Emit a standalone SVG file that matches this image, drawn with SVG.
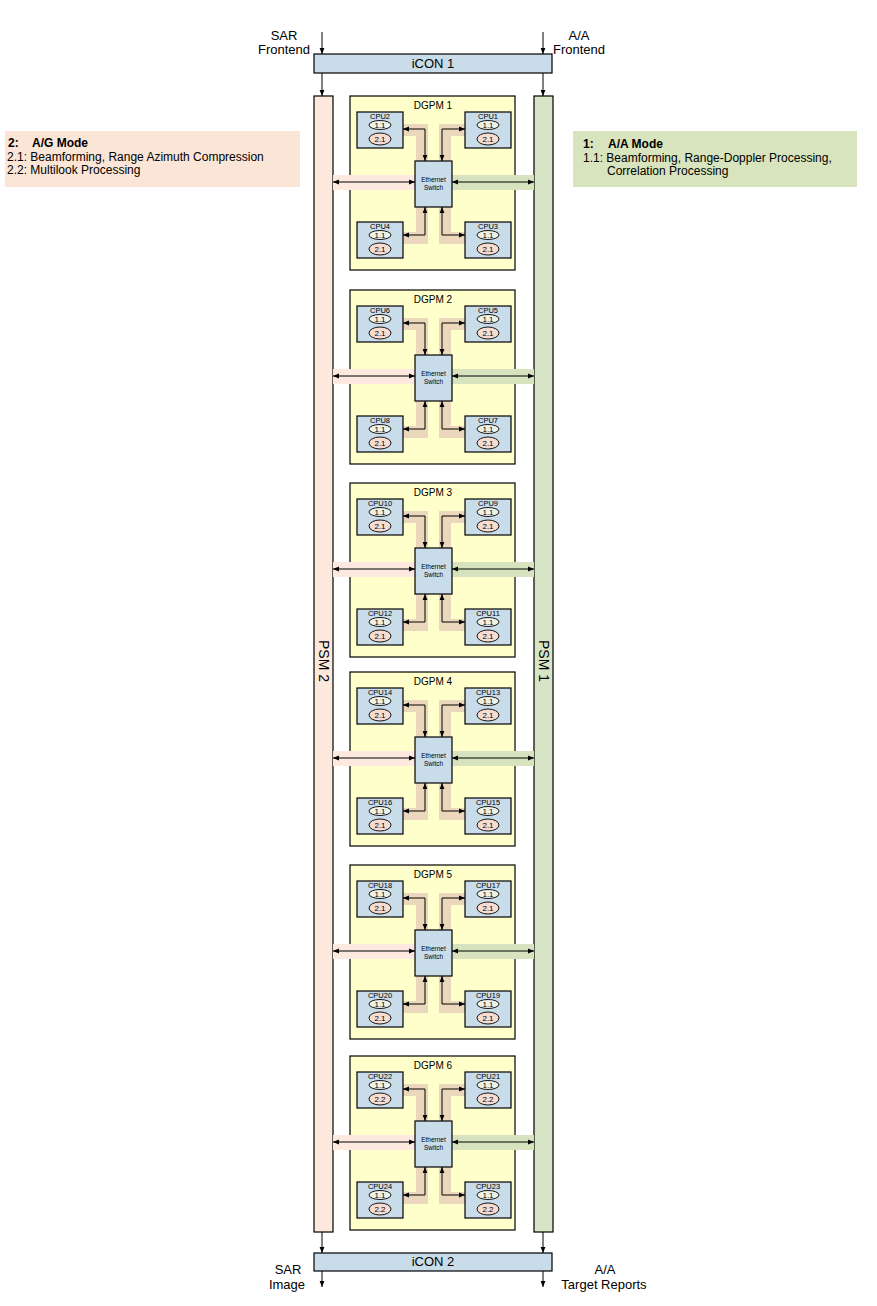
<svg xmlns="http://www.w3.org/2000/svg" width="877" height="1306" viewBox="0 0 877 1306">
<defs>
<style>
text{font-family:"Liberation Sans",Arial,sans-serif;fill:#000}
.box{fill:#c9dce9;stroke:#000;stroke-width:1.2}
.dgpm{fill:#ffffcc;stroke:#000;stroke-width:1.2}
.psm2{fill:#fce8dc;stroke:#000;stroke-width:1.2}
.psm1{fill:#d8e4c6;stroke:#000;stroke-width:1.2}
.e1{fill:#f0f2e8;stroke:#000;stroke-width:0.9}
.e2{fill:#f8dcd0;stroke:#000;stroke-width:0.9}
.tan{fill:none;stroke:#ebd8bc;stroke-width:12;stroke-linejoin:miter}
.pink{fill:#fde9df}
.green{fill:#d7e3bf}
.ar{fill:none;stroke:#000;stroke-width:1}
.lbl{font-size:13px}
.cpu{font-size:7.5px;text-anchor:middle}
.num{font-size:8px;text-anchor:middle}
.sw{font-size:6.5px;text-anchor:middle}
.ttl{font-size:10px;text-anchor:middle}
.leg{font-size:12px}
</style>
<marker id="ah" viewBox="0 0 10 10" refX="10" refY="5" markerWidth="6" markerHeight="6" orient="auto-start-reverse" markerUnits="userSpaceOnUse">
<path d="M0,1 L10,5 L0,9 z" fill="#000"/>
</marker>
<g id="dgpm-conn">
<polyline class="tan" points="403,130 422,130 422,161"/>
<polyline class="tan" points="465,130 445,130 445,161"/>
<polyline class="tan" points="403,238 422,238 422,207"/>
<polyline class="tan" points="465,238 445,238 445,207"/>
<rect class="pink" x="333" y="175" width="82" height="15"/>
<rect class="green" x="452" y="175" width="82" height="15"/>
</g>
<g id="dgpm-arrows">
<polyline class="ar" points="403,129 425,129 425,161" marker-start="url(#ah)" marker-end="url(#ah)"/>
<polyline class="ar" points="442,161 442,129 465,129" marker-start="url(#ah)" marker-end="url(#ah)"/>
<polyline class="ar" points="403,235 425,235 425,207" marker-start="url(#ah)" marker-end="url(#ah)"/>
<polyline class="ar" points="442,207 442,235 465,235" marker-start="url(#ah)" marker-end="url(#ah)"/>
<line class="ar" x1="333" y1="182" x2="415" y2="182" marker-start="url(#ah)" marker-end="url(#ah)"/>
<line class="ar" x1="452" y1="182" x2="534" y2="182" marker-start="url(#ah)" marker-end="url(#ah)"/>
</g>
</defs>
<rect width="877" height="1306" fill="#fff"/>

<g id="legend-ag">
<rect x="5" y="131" width="295" height="56" fill="#fbe5d6"/>
<text class="leg" x="8" y="147" font-weight="bold">2:</text>
<text class="leg" x="32" y="147" font-weight="bold">A/G Mode</text>
<text class="leg" x="7" y="161">2.1: Beamforming, Range Azimuth Compression</text>
<text class="leg" x="7" y="174">2.2: Multilook Processing</text>
</g>
<g id="legend-aa">
<rect x="573" y="131" width="284" height="56" fill="#d7e4bd"/>
<text class="leg" x="583" y="148" font-weight="bold">1:</text>
<text class="leg" x="608" y="148" font-weight="bold">A/A Mode</text>
<text class="leg" x="583" y="162">1.1: Beamforming, Range-Doppler Processing,</text>
<text class="leg" x="607" y="175">Correlation Processing</text>
</g>

<g id="icon1">
<rect class="box" x="314" y="54" width="238" height="19"/>
<text x="433" y="68" font-size="13" text-anchor="middle">iCON 1</text>
</g>
<g id="icon2">
<rect class="box" x="314" y="1253" width="238" height="18"/>
<text x="433" y="1266" font-size="13" text-anchor="middle">iCON 2</text>
</g>
<g id="psm2">
<rect class="psm2" x="314" y="96" width="19" height="1136"/>
<text x="323.5" y="661" font-size="14" text-anchor="middle" transform="rotate(90 323.5 661)" dy="5">PSM 2</text>
</g>
<g id="psm1">
<rect class="psm1" x="534" y="96" width="19" height="1136"/>
<text x="543.5" y="661" font-size="14" text-anchor="middle" transform="rotate(90 543.5 661)" dy="5">PSM 1</text>
</g>

<g id="io-labels">
<text class="lbl" x="284" y="40" text-anchor="middle">SAR</text>
<text class="lbl" x="284" y="54" text-anchor="middle">Frontend</text>
<text class="lbl" x="579" y="40" text-anchor="middle">A/A</text>
<text class="lbl" x="579" y="54" text-anchor="middle">Frontend</text>
<text class="lbl" x="288" y="1274" text-anchor="middle">SAR</text>
<text class="lbl" x="287" y="1289" text-anchor="middle">Image</text>
<text class="lbl" x="605" y="1274" text-anchor="middle">A/A</text>
<text class="lbl" x="604" y="1289" text-anchor="middle">Target Reports</text>
</g>

<!-- DGPM 1 -->
<g id="dgpm1">
<rect class="dgpm" x="350" y="96" width="165" height="174"/>
<text class="ttl" x="433" y="109">DGPM 1</text>
</g>
<g id="dgpm2" transform="translate(0,194)">
<rect class="dgpm" x="350" y="96" width="165" height="174"/>
<text class="ttl" x="433" y="109">DGPM 2</text>
</g>
<g id="dgpm3" transform="translate(0,387)">
<rect class="dgpm" x="350" y="96" width="165" height="174"/>
<text class="ttl" x="433" y="109">DGPM 3</text>
</g>
<g id="dgpm4" transform="translate(0,576)">
<rect class="dgpm" x="350" y="96" width="165" height="174"/>
<text class="ttl" x="433" y="109">DGPM 4</text>
</g>
<g id="dgpm5" transform="translate(0,769)">
<rect class="dgpm" x="350" y="96" width="165" height="174"/>
<text class="ttl" x="433" y="109">DGPM 5</text>
</g>
<g id="dgpm6" transform="translate(0,960)">
<rect class="dgpm" x="350" y="96" width="165" height="174"/>
<text class="ttl" x="433" y="109">DGPM 6</text>
</g>

<g id="bands">
<use href="#dgpm-conn"/>
<use href="#dgpm-conn" transform="translate(0,194)"/>
<use href="#dgpm-conn" transform="translate(0,387)"/>
<use href="#dgpm-conn" transform="translate(0,576)"/>
<use href="#dgpm-conn" transform="translate(0,769)"/>
<use href="#dgpm-conn" transform="translate(0,960)"/>
</g>

<!-- CPU and switch nodes -->
<g id="m1" transform="translate(0,0)">
<g id="cpu2"><rect class="box" x="357" y="112" width="46" height="36"/><text class="cpu" x="380" y="119">CPU2</text><ellipse class="e1" cx="380" cy="125" rx="11" ry="4.5"/><text class="num" x="380" y="128">1.1</text><ellipse class="e2" cx="380" cy="139" rx="11" ry="6"/><text class="num" x="380" y="142">2.1</text></g>
<g id="cpu1"><rect class="box" x="465" y="112" width="46" height="36"/><text class="cpu" x="488" y="119">CPU1</text><ellipse class="e1" cx="488" cy="125" rx="11" ry="4.5"/><text class="num" x="488" y="128">1.1</text><ellipse class="e2" cx="488" cy="139" rx="11" ry="6"/><text class="num" x="488" y="142">2.1</text></g>
<g id="cpu4"><rect class="box" x="357" y="222" width="46" height="36"/><text class="cpu" x="380" y="229">CPU4</text><ellipse class="e1" cx="380" cy="235" rx="11" ry="4.5"/><text class="num" x="380" y="238">1.1</text><ellipse class="e2" cx="380" cy="249" rx="11" ry="6"/><text class="num" x="380" y="252">2.1</text></g>
<g id="cpu3"><rect class="box" x="465" y="222" width="46" height="36"/><text class="cpu" x="488" y="229">CPU3</text><ellipse class="e1" cx="488" cy="235" rx="11" ry="4.5"/><text class="num" x="488" y="238">1.1</text><ellipse class="e2" cx="488" cy="249" rx="11" ry="6"/><text class="num" x="488" y="252">2.1</text></g>
<g id="sw1"><rect class="box" x="415" y="161" width="37" height="46"/><text class="sw" x="433.5" y="182">Ethernet</text><text class="sw" x="433.5" y="190">Switch</text></g>
</g>
<g id="m2" transform="translate(0,194)">
<g id="cpu6"><rect class="box" x="357" y="112" width="46" height="36"/><text class="cpu" x="380" y="119">CPU6</text><ellipse class="e1" cx="380" cy="125" rx="11" ry="4.5"/><text class="num" x="380" y="128">1.1</text><ellipse class="e2" cx="380" cy="139" rx="11" ry="6"/><text class="num" x="380" y="142">2.1</text></g>
<g id="cpu5"><rect class="box" x="465" y="112" width="46" height="36"/><text class="cpu" x="488" y="119">CPU5</text><ellipse class="e1" cx="488" cy="125" rx="11" ry="4.5"/><text class="num" x="488" y="128">1.1</text><ellipse class="e2" cx="488" cy="139" rx="11" ry="6"/><text class="num" x="488" y="142">2.1</text></g>
<g id="cpu8"><rect class="box" x="357" y="222" width="46" height="36"/><text class="cpu" x="380" y="229">CPU8</text><ellipse class="e1" cx="380" cy="235" rx="11" ry="4.5"/><text class="num" x="380" y="238">1.1</text><ellipse class="e2" cx="380" cy="249" rx="11" ry="6"/><text class="num" x="380" y="252">2.1</text></g>
<g id="cpu7"><rect class="box" x="465" y="222" width="46" height="36"/><text class="cpu" x="488" y="229">CPU7</text><ellipse class="e1" cx="488" cy="235" rx="11" ry="4.5"/><text class="num" x="488" y="238">1.1</text><ellipse class="e2" cx="488" cy="249" rx="11" ry="6"/><text class="num" x="488" y="252">2.1</text></g>
<g id="sw2"><rect class="box" x="415" y="161" width="37" height="46"/><text class="sw" x="433.5" y="182">Ethernet</text><text class="sw" x="433.5" y="190">Switch</text></g>
</g>
<g id="m3" transform="translate(0,387)">
<g id="cpu10"><rect class="box" x="357" y="112" width="46" height="36"/><text class="cpu" x="380" y="119">CPU10</text><ellipse class="e1" cx="380" cy="125" rx="11" ry="4.5"/><text class="num" x="380" y="128">1.1</text><ellipse class="e2" cx="380" cy="139" rx="11" ry="6"/><text class="num" x="380" y="142">2.1</text></g>
<g id="cpu9"><rect class="box" x="465" y="112" width="46" height="36"/><text class="cpu" x="488" y="119">CPU9</text><ellipse class="e1" cx="488" cy="125" rx="11" ry="4.5"/><text class="num" x="488" y="128">1.1</text><ellipse class="e2" cx="488" cy="139" rx="11" ry="6"/><text class="num" x="488" y="142">2.1</text></g>
<g id="cpu12"><rect class="box" x="357" y="222" width="46" height="36"/><text class="cpu" x="380" y="229">CPU12</text><ellipse class="e1" cx="380" cy="235" rx="11" ry="4.5"/><text class="num" x="380" y="238">1.1</text><ellipse class="e2" cx="380" cy="249" rx="11" ry="6"/><text class="num" x="380" y="252">2.1</text></g>
<g id="cpu11"><rect class="box" x="465" y="222" width="46" height="36"/><text class="cpu" x="488" y="229">CPU11</text><ellipse class="e1" cx="488" cy="235" rx="11" ry="4.5"/><text class="num" x="488" y="238">1.1</text><ellipse class="e2" cx="488" cy="249" rx="11" ry="6"/><text class="num" x="488" y="252">2.1</text></g>
<g id="sw3"><rect class="box" x="415" y="161" width="37" height="46"/><text class="sw" x="433.5" y="182">Ethernet</text><text class="sw" x="433.5" y="190">Switch</text></g>
</g>
<g id="m4" transform="translate(0,576)">
<g id="cpu14"><rect class="box" x="357" y="112" width="46" height="36"/><text class="cpu" x="380" y="119">CPU14</text><ellipse class="e1" cx="380" cy="125" rx="11" ry="4.5"/><text class="num" x="380" y="128">1.1</text><ellipse class="e2" cx="380" cy="139" rx="11" ry="6"/><text class="num" x="380" y="142">2.1</text></g>
<g id="cpu13"><rect class="box" x="465" y="112" width="46" height="36"/><text class="cpu" x="488" y="119">CPU13</text><ellipse class="e1" cx="488" cy="125" rx="11" ry="4.5"/><text class="num" x="488" y="128">1.1</text><ellipse class="e2" cx="488" cy="139" rx="11" ry="6"/><text class="num" x="488" y="142">2.1</text></g>
<g id="cpu16"><rect class="box" x="357" y="222" width="46" height="36"/><text class="cpu" x="380" y="229">CPU16</text><ellipse class="e1" cx="380" cy="235" rx="11" ry="4.5"/><text class="num" x="380" y="238">1.1</text><ellipse class="e2" cx="380" cy="249" rx="11" ry="6"/><text class="num" x="380" y="252">2.1</text></g>
<g id="cpu15"><rect class="box" x="465" y="222" width="46" height="36"/><text class="cpu" x="488" y="229">CPU15</text><ellipse class="e1" cx="488" cy="235" rx="11" ry="4.5"/><text class="num" x="488" y="238">1.1</text><ellipse class="e2" cx="488" cy="249" rx="11" ry="6"/><text class="num" x="488" y="252">2.1</text></g>
<g id="sw4"><rect class="box" x="415" y="161" width="37" height="46"/><text class="sw" x="433.5" y="182">Ethernet</text><text class="sw" x="433.5" y="190">Switch</text></g>
</g>
<g id="m5" transform="translate(0,769)">
<g id="cpu18"><rect class="box" x="357" y="112" width="46" height="36"/><text class="cpu" x="380" y="119">CPU18</text><ellipse class="e1" cx="380" cy="125" rx="11" ry="4.5"/><text class="num" x="380" y="128">1.1</text><ellipse class="e2" cx="380" cy="139" rx="11" ry="6"/><text class="num" x="380" y="142">2.1</text></g>
<g id="cpu17"><rect class="box" x="465" y="112" width="46" height="36"/><text class="cpu" x="488" y="119">CPU17</text><ellipse class="e1" cx="488" cy="125" rx="11" ry="4.5"/><text class="num" x="488" y="128">1.1</text><ellipse class="e2" cx="488" cy="139" rx="11" ry="6"/><text class="num" x="488" y="142">2.1</text></g>
<g id="cpu20"><rect class="box" x="357" y="222" width="46" height="36"/><text class="cpu" x="380" y="229">CPU20</text><ellipse class="e1" cx="380" cy="235" rx="11" ry="4.5"/><text class="num" x="380" y="238">1.1</text><ellipse class="e2" cx="380" cy="249" rx="11" ry="6"/><text class="num" x="380" y="252">2.1</text></g>
<g id="cpu19"><rect class="box" x="465" y="222" width="46" height="36"/><text class="cpu" x="488" y="229">CPU19</text><ellipse class="e1" cx="488" cy="235" rx="11" ry="4.5"/><text class="num" x="488" y="238">1.1</text><ellipse class="e2" cx="488" cy="249" rx="11" ry="6"/><text class="num" x="488" y="252">2.1</text></g>
<g id="sw5"><rect class="box" x="415" y="161" width="37" height="46"/><text class="sw" x="433.5" y="182">Ethernet</text><text class="sw" x="433.5" y="190">Switch</text></g>
</g>
<g id="m6" transform="translate(0,960)">
<g id="cpu22"><rect class="box" x="357" y="112" width="46" height="36"/><text class="cpu" x="380" y="119">CPU22</text><ellipse class="e1" cx="380" cy="125" rx="11" ry="4.5"/><text class="num" x="380" y="128">1.1</text><ellipse class="e2" cx="380" cy="139" rx="11" ry="6"/><text class="num" x="380" y="142">2.2</text></g>
<g id="cpu21"><rect class="box" x="465" y="112" width="46" height="36"/><text class="cpu" x="488" y="119">CPU21</text><ellipse class="e1" cx="488" cy="125" rx="11" ry="4.5"/><text class="num" x="488" y="128">1.1</text><ellipse class="e2" cx="488" cy="139" rx="11" ry="6"/><text class="num" x="488" y="142">2.2</text></g>
<g id="cpu24"><rect class="box" x="357" y="222" width="46" height="36"/><text class="cpu" x="380" y="229">CPU24</text><ellipse class="e1" cx="380" cy="235" rx="11" ry="4.5"/><text class="num" x="380" y="238">1.1</text><ellipse class="e2" cx="380" cy="249" rx="11" ry="6"/><text class="num" x="380" y="252">2.2</text></g>
<g id="cpu23"><rect class="box" x="465" y="222" width="46" height="36"/><text class="cpu" x="488" y="229">CPU23</text><ellipse class="e1" cx="488" cy="235" rx="11" ry="4.5"/><text class="num" x="488" y="238">1.1</text><ellipse class="e2" cx="488" cy="249" rx="11" ry="6"/><text class="num" x="488" y="252">2.2</text></g>
<g id="sw6"><rect class="box" x="415" y="161" width="37" height="46"/><text class="sw" x="433.5" y="182">Ethernet</text><text class="sw" x="433.5" y="190">Switch</text></g>
</g>

<g id="connectors">
<line class="ar" x1="322" y1="32" x2="322" y2="54" marker-end="url(#ah)"/>
<line class="ar" x1="543" y1="32" x2="543" y2="54" marker-end="url(#ah)"/>
<line class="ar" x1="322" y1="73" x2="322" y2="96" marker-end="url(#ah)"/>
<line class="ar" x1="543" y1="73" x2="543" y2="96" marker-end="url(#ah)"/>
<line class="ar" x1="322" y1="1232" x2="322" y2="1253" marker-end="url(#ah)"/>
<line class="ar" x1="543" y1="1232" x2="543" y2="1253" marker-end="url(#ah)"/>
<line class="ar" x1="322" y1="1271" x2="322" y2="1287" marker-end="url(#ah)"/>
<line class="ar" x1="543" y1="1271" x2="543" y2="1287" marker-end="url(#ah)"/>
<use href="#dgpm-arrows"/>
<use href="#dgpm-arrows" transform="translate(0,194)"/>
<use href="#dgpm-arrows" transform="translate(0,387)"/>
<use href="#dgpm-arrows" transform="translate(0,576)"/>
<use href="#dgpm-arrows" transform="translate(0,769)"/>
<use href="#dgpm-arrows" transform="translate(0,960)"/>
</g>
</svg>
